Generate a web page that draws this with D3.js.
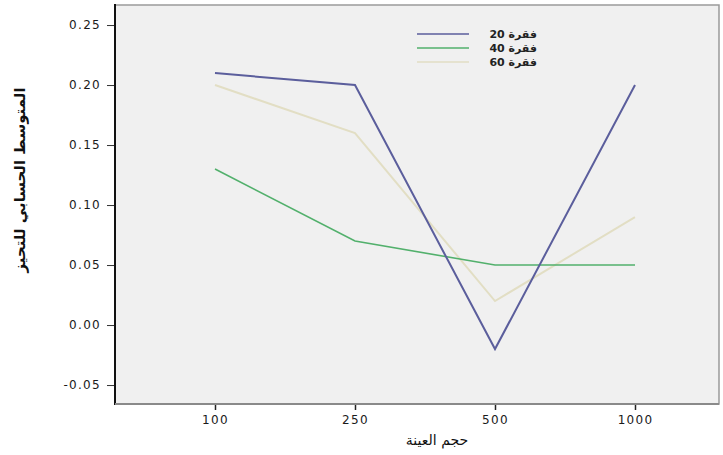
<!DOCTYPE html>
<html><head><meta charset="utf-8">
<script src="https://cdn.jsdelivr.net/npm/d3@7"></script>
<style>body{margin:0;background:#fff}svg{display:block}</style>
</head><body>
<svg id="c" width="723" height="455"></svg>
<script>
const categories = ["100", "250", "500", "1000"];
const seriesNames = ["فقرة 20", "فقرة 40", "فقرة 60"];
const item20 = [0.21, 0.20, -0.02, 0.20];
const item40 = [0.13, 0.07, 0.05, 0.05];
const item60 = [0.20, 0.16, 0.02, 0.09];
const yTicks = [-0.05, 0.00, 0.05, 0.10, 0.15, 0.20, 0.25];
const yTitle = "المتوسط الحسابي للتحيز";
const xTitle = "حجم العينة";

const series = [
  {name: seriesNames[0], values: item20, color: "#5b5e9c", width: 2},
  {name: seriesNames[1], values: item40, color: "#52b06c", width: 1.6},
  {name: seriesNames[2], values: item60, color: "#e2dec4", width: 2}
];

const svg = d3.select("#c");
const L = 115, R = 719, T = 5, B = 404;
const x = d3.scalePoint().domain(categories).range([215, 635]);
const y = d3.scaleLinear().domain([-0.0658, 0.2667]).range([B, T]);

svg.append("rect").attr("x", L).attr("y", T).attr("width", R - L).attr("height", B - T)
  .attr("fill", "#f0f0f0").attr("stroke", "#9a9a9a").attr("stroke-width", 1.5);

const font = "DejaVu Sans, Liberation Sans, sans-serif";

// Y axis
const ya = svg.append("g").attr("transform", `translate(${L},0)`)
  .call(d3.axisLeft(y).tickValues(yTicks).tickSize(8).tickPadding(6).tickFormat(d3.format(".2f")));
ya.select(".domain").remove();
ya.selectAll("line").attr("stroke", "#333");
ya.selectAll("text").attr("font-family", font).attr("font-size", 12)
  .attr("letter-spacing", "1.3px").attr("fill", "#1a1a1a").text(d => d3.format(".2f")(d).replace("−", "-"));
svg.append("line").attr("x1", L).attr("x2", L).attr("y1", T - 1).attr("y2", B + 1)
  .attr("stroke", "#111").attr("stroke-width", 2);

// X axis
const xa = svg.append("g").attr("transform", `translate(0,${B})`)
  .call(d3.axisBottom(x).tickSize(6).tickPadding(5));
xa.select(".domain").remove();
xa.selectAll("line").attr("stroke", "#222").attr("stroke-width", 1.5);
xa.selectAll("text").attr("font-family", font).attr("font-size", 12)
  .attr("letter-spacing", "1.3px").attr("fill", "#1a1a1a");
svg.append("line").attr("x1", L).attr("x2", R).attr("y1", B).attr("y2", B)
  .attr("stroke", "#8a8a8a").attr("stroke-width", 2);

// Lines (draw lighter first)
const line = d3.line().x((d, i) => x(categories[i])).y(d => y(d));
[series[2], series[1], series[0]].forEach(s => {
  svg.append("path").datum(s.values).attr("d", line).attr("fill", "none")
    .attr("stroke", s.color).attr("stroke-width", s.width);
});

// Legend
series.forEach((s, i) => {
  const ly = 34 + i * 14;
  svg.append("line").attr("x1", 417).attr("x2", 469).attr("y1", ly).attr("y2", ly)
    .attr("stroke", s.color).attr("stroke-width", 1.5);
  svg.append("text").attr("x", 537).attr("y", ly + 4).attr("direction", "rtl")
    .attr("text-anchor", "start").attr("font-family", font).attr("font-size", 11)
    .attr("font-weight", "bold").attr("letter-spacing", "0.5px").attr("fill", "#222").text(s.name);
});

// Titles
svg.append("text").attr("transform", "translate(25,180) rotate(-90)")
  .attr("text-anchor", "middle").attr("direction", "rtl").attr("font-family", font)
  .attr("font-size", 15).attr("font-weight", "bold").attr("fill", "#111").text(yTitle);
svg.append("text").attr("x", 437).attr("y", 445).attr("text-anchor", "middle")
  .attr("direction", "rtl").attr("font-family", font).attr("font-size", 14)
  .attr("fill", "#111").text(xTitle);
</script>
</body></html>
